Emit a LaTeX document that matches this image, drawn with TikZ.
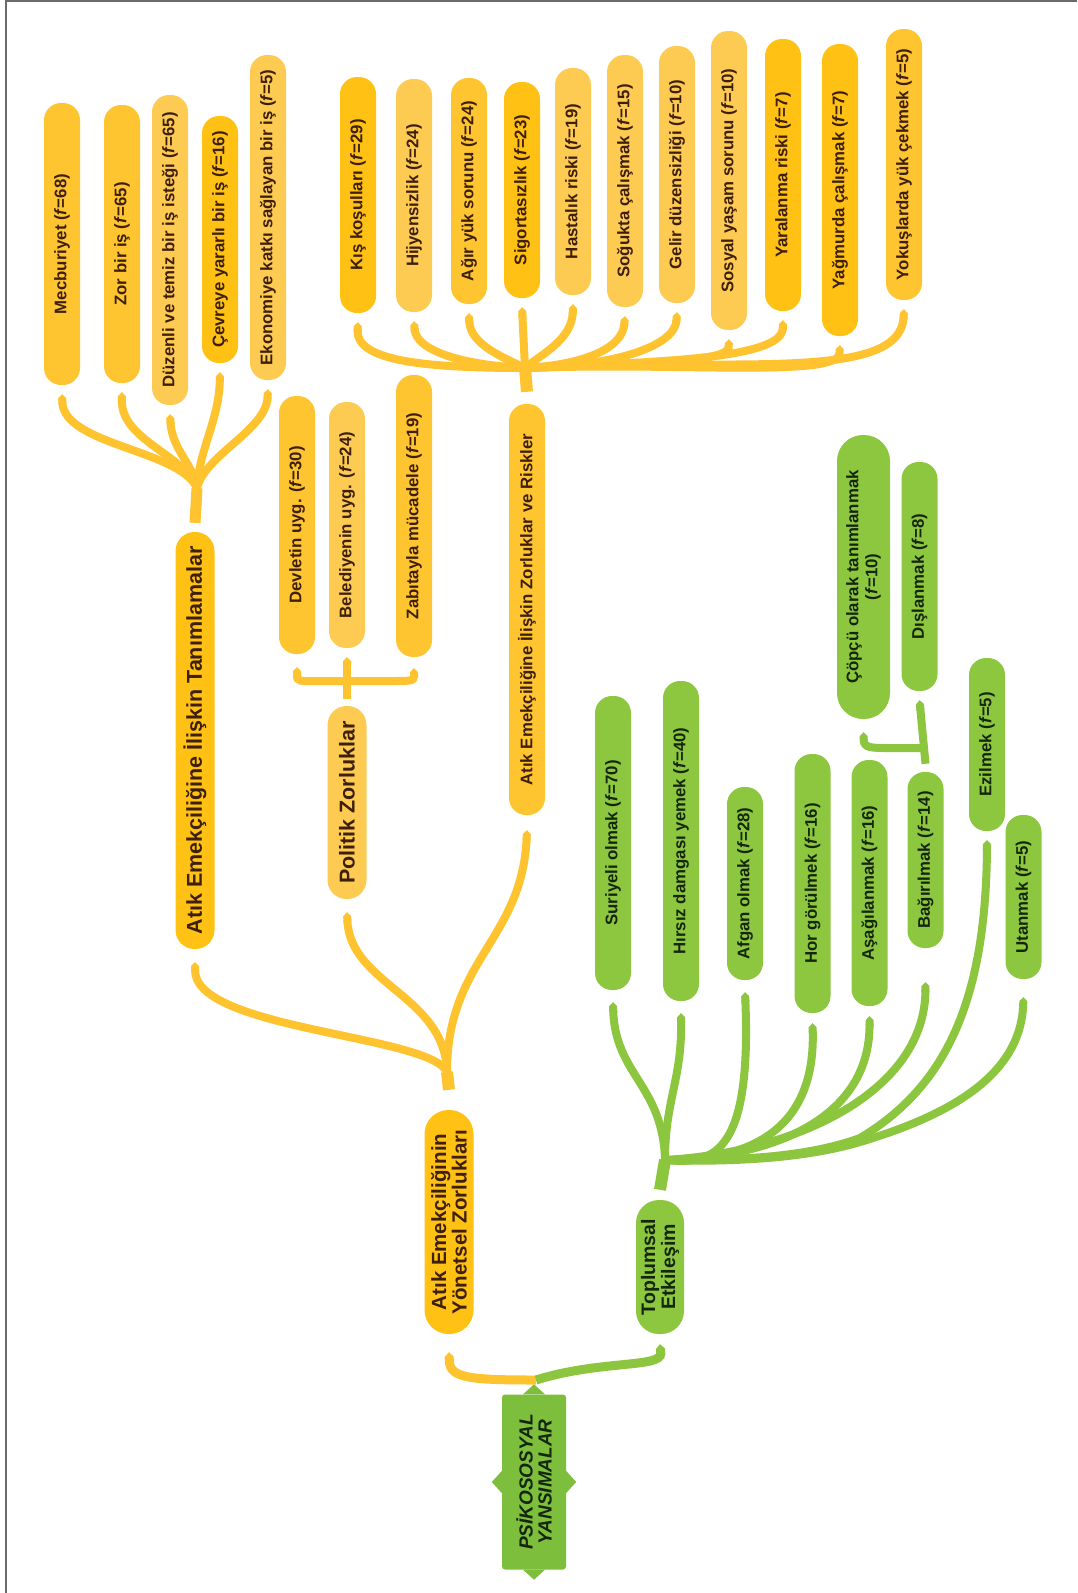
\documentclass[tikz,border=0pt]{standalone}
\usepackage{fontspec}
\setmainfont{Liberation Sans}
\usetikzlibrary{arrows.meta}
\definecolor{yA}{HTML}{FFC114}
\definecolor{yB}{HTML}{FEC530}
\definecolor{yC}{HTML}{FECB52}
\definecolor{ycl}{HTML}{FEC32E}
\definecolor{gN}{HTML}{8DC63F}
\definecolor{gcl}{HTML}{8CC63F}
\definecolor{gP}{HTML}{7DBE3C}
\definecolor{ytxt}{HTML}{3D1F0B}
\definecolor{gtxt}{HTML}{14260C}
\definecolor{frm}{HTML}{6A6A6A}
\newcommand\myNF{\fontsize{16.8}{19}\selectfont\bfseries}
\newcommand\myBF{\fontsize{21.5}{21}\selectfont\bfseries}
\newcommand\myYF{\fontsize{20.5}{20.5}\selectfont\bfseries}
\newcommand\myTF{\fontsize{19.5}{20}\selectfont\bfseries}
\newcommand\myPF{\fontsize{19}{19}\selectfont\bfseries\itshape}
\newcommand\fv{\textit{f}}
\tikzset{
  base/.style={rotate=90, inner sep=0pt, align=center, font=\myNF, minimum height=36, rounded corners=17},
  yn/.style={base, text=ytxt},
  gn/.style={base, fill=gN, text=gtxt},
  big/.style={font=\myBF, minimum height=39, rounded corners=19},
  ycon/.style={draw=ycl, line width=8},
  gcon/.style={draw=gcl, line width=8},
  ybr/.style={ycon, {Triangle Cap[]}-},
  gbr/.style={gcon, {Triangle Cap[]}-},
  psis/.style={rotate=90, inner sep=0pt, align=center, font=\myPF, fill=gP, text=gtxt, minimum width=175, minimum height=64, rounded corners=3}
}
\begin{document}
\begin{tikzpicture}[x=1pt,y=-1pt]
\useasboundingbox (0,0) rectangle (1077,1593);
\fill[white] (0,0) rectangle (1077,1593);
\draw[frm, line width=2] (6,1593) -- (6,1) -- (1077,1);

% ---------- yellow top row
\node[yn, fill=yB, minimum width=282] (mec) at (62,244) {Mecburiyet (\fv=68)};
\node[yn, fill=yB, minimum width=278] (zor) at (122,244) {Zor bir iş (\fv=65)};
\node[yn, fill=yC, minimum width=310] (duz) at (170,250) {Düzenli ve temiz bir iş isteği (\fv=65)};
\node[yn, fill=yA, minimum width=247] (cev) at (220,239.5) {Çevreye yararlı bir iş (\fv=16)};
\node[yn, fill=yC, minimum width=325] (eko) at (268,217.5) {Ekonomiye katkı sağlayan bir iş (\fv=5)};
\node[yn, fill=yA, minimum width=236] (kis) at (358,195) {Kış koşulları (\fv=29)};
\node[yn, fill=yC, minimum width=233] (hij) at (414,195.5) {Hijyensizlik (\fv=24)};
\node[yn, fill=yB, minimum width=226] (agi) at (469,191) {Ağır yük sorunu (\fv=24)};
\node[yn, fill=yA, minimum width=216] (sig) at (522,190) {Sigortasızlık (\fv=23)};
\node[yn, fill=yC, minimum width=227] (has) at (573,181.5) {Hastalık riski (\fv=19)};
\node[yn, fill=yC, minimum width=252] (sog) at (625,181) {Soğukta çalışmak (\fv=15)};
\node[yn, fill=yC, minimum width=257] (gel) at (677,174.5) {Gelir düzensizliği (\fv=10)};
\node[yn, fill=yC, minimum width=299] (sos) at (729,180.5) {Sosyal yaşam sorunu (\fv=10)};
\node[yn, fill=yA, minimum width=272] (yar) at (783,175) {Yaralanma riski (\fv=7)};
\node[yn, fill=yA, minimum width=292] (yag) at (840,190) {Yağmurda çalışmak (\fv=7)};
\node[yn, fill=yB, minimum width=271] (yok) at (904,164.5) {Yokuşlarda yük çekmek (\fv=5)};

% ---------- yellow middle
\node[yn, fill=yB, minimum width=258] (dev) at (297,525) {Devletin uyg. (\fv=30)};
\node[yn, fill=yC, minimum width=246] (bel) at (347,525) {Belediyenin uyg. (\fv=24)};
\node[yn, fill=yB, minimum width=282] (zab) at (414,516) {Zabıtayla mücadele (\fv=19)};
\node[yn, fill=yB, minimum width=411] (ris) at (527,609.5) {Atık Emekçiliğine İlişkin Zorluklar ve Riskler};
\node[yn, big, fill=yC, minimum width=193] (pol) at (347,802.5) {Politik Zorluklar};
\node[yn, big, fill=yA, minimum width=417] (tan) at (195,740.5) {Atık Emekçiliğine İlişkin Tanımlamalar};
\node[yn, fill=yA, font=\myYF, minimum height=49, rounded corners=24, minimum width=224] (yon) at (449,1222) {Atık Emekçiliğinin\\Yönetsel Zorlukları};

% ---------- green
\node[gn, minimum width=294] (sur) at (613,843) {Suriyeli olmak (\fv=70)};
\node[gn, minimum width=320] (hir) at (681,841) {Hırsız damgası yemek (\fv=40)};
\node[gn, minimum width=193] (afg) at (745,883.5) {Afgan olmak (\fv=28)};
\node[gn, minimum width=259] (hor) at (812.5,883.5) {Hor görülmek (\fv=16)};
\node[gn, minimum width=246] (asa) at (869.5,883) {Aşağılanmak (\fv=16)};
\node[gn, minimum width=176] (bag) at (925.5,860) {Bağırılmak (\fv=14)};
\node[gn, minimum width=284, minimum height=53, rounded corners=26] (cop) at (863.5,577) {Çöpçü olarak tanımlanmak\\(\fv=10)};
\node[gn, minimum width=229] (dis) at (919.5,576.5) {Dışlanmak (\fv=8)};
\node[gn, minimum width=173] (ezi) at (987,744.5) {Ezilmek (\fv=5)};
\node[gn, minimum width=164] (uta) at (1023.5,897) {Utanmak (\fv=5)};
\node[gn, font=\myTF, minimum height=48, rounded corners=23, minimum width=134] (topl) at (660,1267) {Toplumsal\\Etkileşim};

% ---------- root
\node[psis] (psi) at (534,1482) {PSİKOSOSYAL\\YANSIMALAR};
\fill[gP] ([xshift=-11pt]psi.east) -- ([yshift=10pt]psi.east) -- ([xshift=11pt]psi.east) -- cycle;
\fill[gP] ([xshift=-11pt]psi.west) -- ([yshift=-10pt]psi.west) -- ([xshift=11pt]psi.west) -- cycle;
\fill[gP] ([yshift=11pt]psi.north) -- ([xshift=-10pt]psi.north) -- ([yshift=-11pt]psi.north) -- cycle;
\fill[gP] ([yshift=11pt]psi.south) -- ([xshift=10pt]psi.south) -- ([yshift=-11pt]psi.south) -- cycle;

% ---------- junctions
\coordinate (jT) at (197,488);
\coordinate (jR) at (525,368);
\coordinate (jP) at (347,681);
\coordinate (jY) at (447,1072);
\coordinate (jG) at (665,1160);
\coordinate (jB) at (924,748);
\coordinate (jC) at (536,1380);

% ---------- Tanimlamalar tree
\draw[ybr] ([yshift=-9pt]mec.west) .. controls (64,445) and (180,450) .. (jT);
\draw[ybr] ([yshift=-9pt]zor.west) .. controls (121,440) and (185,455) .. (jT);
\draw[ybr] ([yshift=-9pt]duz.west) .. controls (172,450) and (194,465) .. (jT);
\draw[ybr] ([yshift=-9pt]cev.west) .. controls (219,420) and (199,450) .. (jT);
\draw[ybr] ([yshift=-9pt]eko.west) .. controls (266,430) and (205,455) .. (jT);
\draw[ycon, line width=11] (jT) -- ([yshift=9pt]tan.east);

% ---------- Riskler tree
\draw[ybr] ([yshift=-9pt]kis.west) .. controls (356,360) and (420,368) .. (jR);
\draw[ybr] ([yshift=-9pt]hij.west) .. controls (416,350) and (460,365) .. (jR);
\draw[ybr] ([yshift=-9pt]agi.west) .. controls (470,345) and (505,358) .. (jR);
\draw[ybr] ([yshift=-9pt]sig.west) -- (jR);
\draw[ybr] ([yshift=-9pt]has.west) .. controls (572,340) and (540,355) .. (jR);
\draw[ybr] ([yshift=-9pt]sog.west) .. controls (622,350) and (580,365) .. (jR);
\draw[ybr] ([yshift=-9pt]gel.west) .. controls (675,345) and (620,366) .. (jR);
\draw[ybr] ([yshift=-9pt]sos.west) .. controls (728,362) and (640,364) .. (jR);
\draw[ybr] ([yshift=-9pt]yar.west) .. controls (782,360) and (650,362) .. (jR);
\draw[ybr] ([yshift=-9pt]yag.west) .. controls (838,378) and (680,362) .. (jR);
\draw[ybr] ([yshift=-9pt]yok.west) .. controls (900,385) and (720,356) .. (jR);
\draw[ycon, line width=12] (jR) -- ([yshift=12pt]ris.east);

% ---------- Politik tree
\draw[ybr] ([yshift=-13pt]dev.west) .. controls (297,682) and (300,681) .. (318,681) -- (jP);
\draw[ybr] ([yshift=-11pt]zab.west) .. controls (414,681) and (410,681) .. (392,681) -- (jP);
\draw[ybr, line width=8] ([yshift=-9pt]bel.west) -- ([yshift=7pt]pol.east);

% ---------- yellow root tree
\draw[ybr] ([yshift=-13pt]tan.west) .. controls (195,1030) and (430,1035) .. (jY);
\draw[ybr] ([yshift=-13pt]pol.west) .. controls (350,985) and (445,995) .. (jY);
\draw[ybr] ([yshift=-15pt]ris.west) .. controls (522,940) and (447,960) .. (jY);
\draw[ycon, line width=12] (jY) -- ([yshift=20pt]yon.east);

% ---------- green tree
\draw[gbr] ([yshift=-12pt]sur.west) .. controls (615,1075) and (663,1085) .. (jG);
\draw[gbr] ([yshift=-12pt]hir.west) .. controls (682,1080) and (665,1100) .. (jG);
\draw[gbr] ([yshift=-12pt]afg.west) .. controls (752,1160) and (710,1164) .. (jG);
\draw[gbr] ([yshift=-10pt]hor.west) .. controls (816,1150) and (720,1160) .. (jG);
\draw[gbr] ([yshift=-10pt]asa.west) .. controls (870,1120) and (770,1158) .. (jG);
\draw[gbr] ([yshift=-34pt]bag.west) .. controls (925,1090) and (800,1152) .. (jG);
\draw[gbr] ([yshift=-9pt]ezi.west) .. controls (986,1010) and (940,1090) .. (860,1138) .. controls (800,1160) and (720,1160) .. (jG);
\draw[gbr] ([yshift=-18pt]uta.west) .. controls (1020,1080) and (940,1118) .. (860,1142) .. controls (800,1160) and (720,1162) .. (jG);
\draw[gcon, line width=12] (jG) -- ([yshift=10pt]topl.east);

% ---------- Copcu / Dislanmak
\draw[gbr] ([yshift=-9pt]dis.west) -- ([yshift=8pt]bag.east);
\draw[gbr] ([yshift=-13pt]cop.west) .. controls (864,748) and (872,748) .. (888,748) -- (jB);

% ---------- root connectors
\draw[ybr, line width=9] ([yshift=-18pt]yon.west) .. controls (450,1378) and (470,1380) .. (jC);
\draw[gbr, line width=9] ([yshift=-10pt]topl.west) .. controls (662,1368) and (600,1360) .. (jC);
\end{tikzpicture}
\end{document}
